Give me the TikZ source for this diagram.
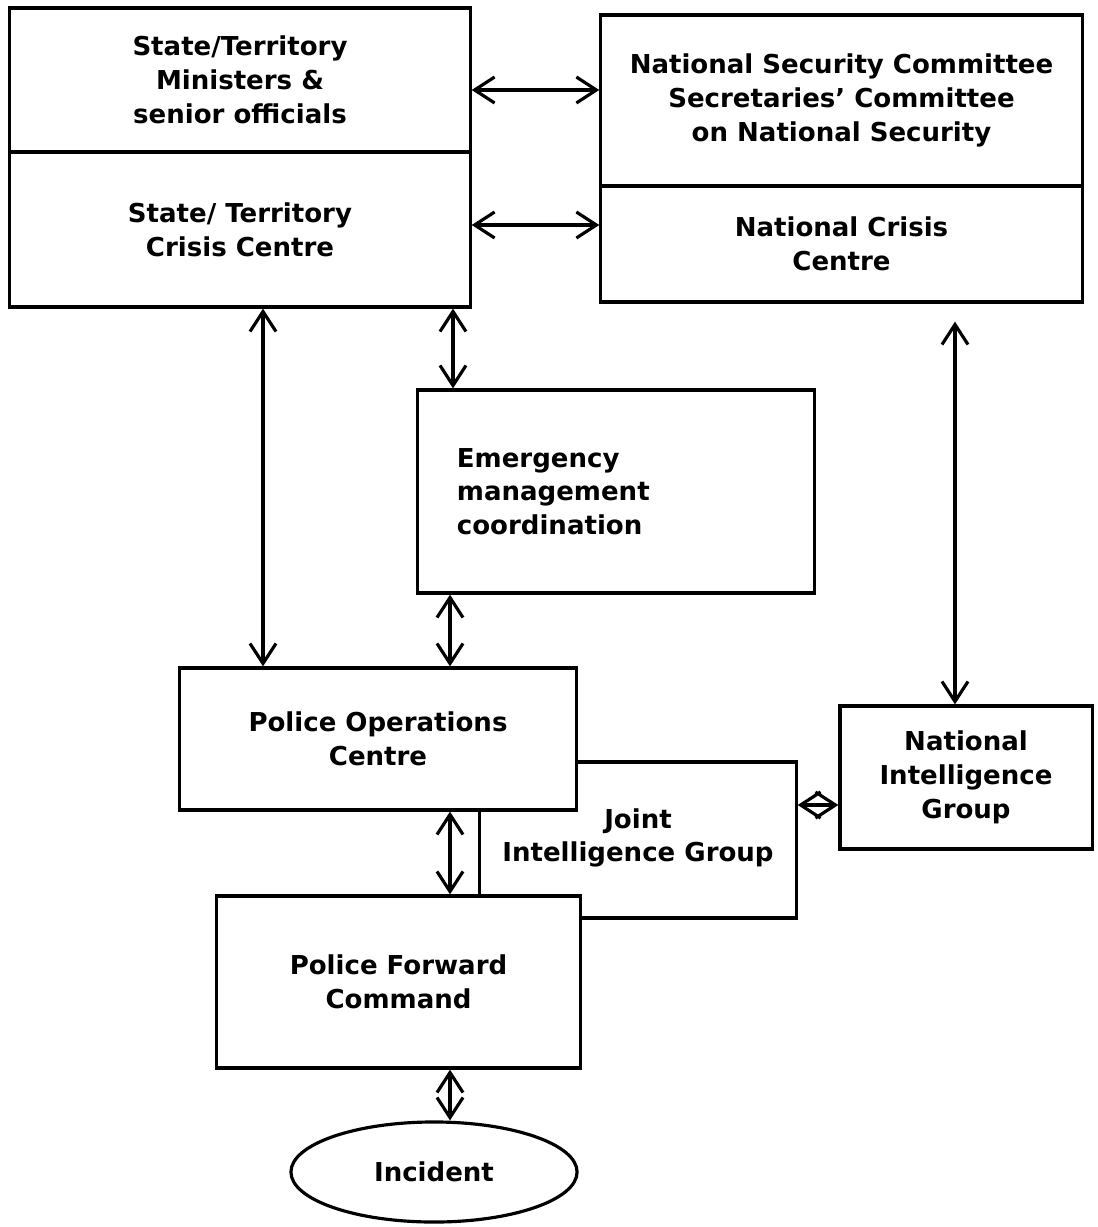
\documentclass[tikz,border=0pt]{standalone}
\usepackage{fontspec}
\setmainfont{DejaVu Sans}
\usetikzlibrary{arrows.meta,shapes.geometric}

\tikzset{
  every box/.style={draw, line width=0.9pt, fill=white, align=center,
    inner sep=0pt, font=\bfseries\fontsize{7.4}{9.6}\selectfont},
  both ways/.style={{Straight Barb[length=0.2cm,width=0.26cm]}-{Straight Barb[length=0.2cm,width=0.26cm]},
    line width=0.9pt},
}

\begin{document}
\begin{tikzpicture}[x=0.01cm, y=-0.01cm]

    \useasboundingbox (0,0) rectangle (1098,1227);

    % state / territory side
    \node [every box, minimum width=4.6cm, minimum height=1.44cm] (state-top) at (240,80)
      {State/Territory\\Ministers \&\\senior officials};
    \node [every box, minimum width=4.6cm, minimum height=1.55cm] (state-crisis) at (240,229.5)
      {State/ Territory\\Crisis Centre};

    % national side
    \node [every box, minimum width=4.81cm, minimum height=1.71cm] (nat-top) at (841.5,100.5)
      {National Security Committee\\Secretaries' Committee\\on National Security};
    \node [every box, minimum width=4.81cm, minimum height=1.16cm] (nat-crisis) at (841.5,244)
      {National Crisis\\Centre};

    \node [every box, minimum width=3.96cm, minimum height=2.03cm, text width=3.18cm,
      inner xsep=0.39cm, align=left] (emergency) at (616,491.5)
      {Emergency\\management\\coordination};

    % joint group sits behind the two police boxes
    \node [every box, minimum width=3.16cm, minimum height=1.56cm, text depth=0.1cm] (joint) at (638,840)
      {Joint\\Intelligence Group};
    \node [every box, minimum width=3.96cm, minimum height=1.42cm] (police-ops) at (378,739)
      {Police Operations\\Centre};
    \node [every box, minimum width=3.63cm, minimum height=1.72cm] (police-fwd) at (398.5,982)
      {Police Forward\\Command};

    \node [every box, minimum width=2.52cm, minimum height=1.43cm] (nat-intel) at (966,777.5)
      {National\\Intelligence\\Group};

    \node [every box, ellipse, minimum width=2.86cm, minimum height=1.0cm] (incident) at (434,1172)
      {Incident};

    % links
    \draw [both ways] (state-top.east |- 0,90) -- (nat-top.west |- 0,90);
    \draw [both ways] (state-crisis.east |- 0,225) -- (nat-crisis.west |- 0,225);

    \draw [both ways] (state-crisis.south -| 263,0) -- (police-ops.north -| 263,0);
    \draw [both ways] (state-crisis.south -| 453,0) -- (emergency.north -| 453,0);
    \draw [both ways] (emergency.south -| 450,0) -- (police-ops.north -| 450,0);
    \draw [both ways, shorten <=0.18cm] (nat-crisis.south -| 955,0) -- (nat-intel.north -| 955,0);

    \draw [both ways] (joint.east |- 0,805) -- (nat-intel.west |- 0,805);
    \draw [both ways] (police-ops.south -| 450,0) -- (police-fwd.north -| 450,0);
    \draw [both ways] (police-fwd.south -| 450,0) -- (450,0 |- incident.north);

\end{tikzpicture}
\end{document}
